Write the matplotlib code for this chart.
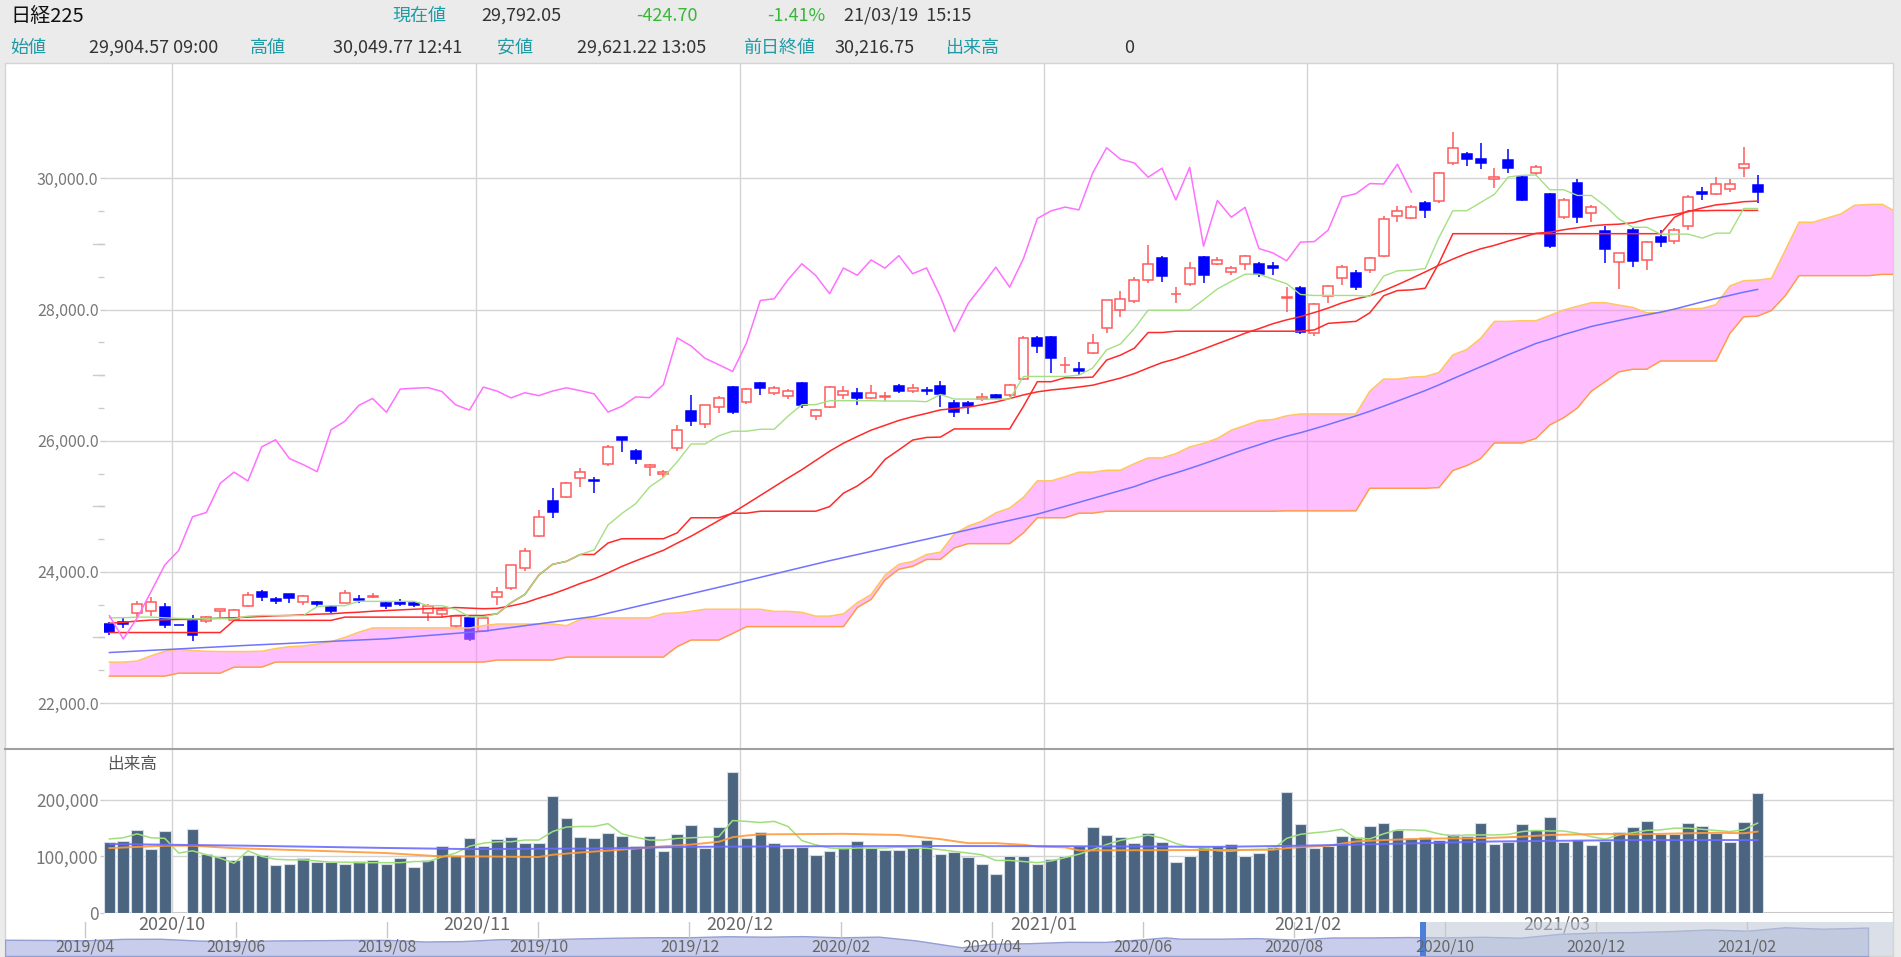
import numpy as np
import matplotlib.pyplot as plt
import matplotlib.transforms as mtransforms
from matplotlib.patches import Rectangle
from matplotlib.lines import Line2D
from matplotlib.ticker import FixedLocator, FuncFormatter

plt.rcParams['font.family'] = ['Noto Sans CJK JP', 'DejaVu Sans']

# ---------------- data ----------------
months = ['2020/09', '2020/10', '2020/11', '2020/12', '2021/01', '2021/02', '2021/03']
trade_days = [
    [24, 25, 28, 29, 30],
    [1, 2, 5, 6, 7, 8, 9, 12, 13, 14, 15, 16, 19, 20, 21, 22, 23, 26, 27, 28, 29, 30],
    [2, 4, 5, 6, 9, 10, 11, 12, 13, 16, 17, 18, 19, 20, 24, 25, 26, 27, 30],
    [1, 2, 3, 4, 7, 8, 9, 10, 11, 14, 15, 16, 17, 18, 21, 22, 23, 24, 25, 28, 29, 30],
    [4, 5, 6, 7, 8, 12, 13, 14, 15, 18, 19, 20, 21, 22, 25, 26, 27, 28, 29],
    [1, 2, 3, 4, 5, 8, 9, 10, 12, 15, 16, 17, 18, 19, 22, 24, 25, 26],
    [1, 2, 3, 4, 5, 8, 9, 10, 11, 12, 15, 16, 17, 18, 19],
]

opens = [
    23200, 23230, 23380, 23400, 23460, 23185.12, 23250, 23250, 23400, 23270,
    23480, 23700, 23580, 23660, 23540, 23540, 23460, 23530, 23590, 23615,
    23530, 23540, 23520, 23380, 23360, 23170, 23300, 23100, 23620, 23750,
    24060, 24550, 25080, 25140, 25430, 25400, 25640, 26060, 25840, 25600,
    25500, 25890, 26450, 26250, 26520, 26820, 26590, 26880, 26730, 26680,
    26880, 26380, 26520, 26690, 26730, 26650, 26660, 26830, 26760, 26780,
    26830, 26580, 26570, 26630, 26700, 26690, 26940, 27570, 27575, 27150,
    27100, 27340, 27720, 28000, 28130, 28450, 28780, 28230, 28390, 28800,
    28700, 28570, 28690, 28690, 28660, 28180, 28330, 27650, 28200, 28480,
    28560, 28600, 28820, 29420, 29390, 29620, 29650, 30230, 30370, 30300,
    29990, 30280, 30020, 30080, 29760, 29410, 29930, 29470, 29200, 28720,
    29210, 28750, 29100, 29040, 29270, 29800, 29760, 29840, 30160, 29904.57,
]
highs = [
    23230, 23290, 23560, 23620, 23520, 23185.12, 23340, 23320, 23440, 23440,
    23700, 23720, 23610, 23670, 23640, 23560, 23480, 23720, 23640, 23680,
    23550, 23580, 23560, 23510, 23450, 23340, 23330, 23310, 23770, 24110,
    24360, 24950, 25280, 25370, 25580, 25450, 25930, 26060, 25880, 25650,
    25560, 26240, 26700, 26540, 26680, 26840, 26800, 26900, 26830, 26790,
    26890, 26480, 26830, 26830, 26800, 26850, 26750, 26860, 26870, 26820,
    26910, 26620, 26600, 26720, 26710, 26860, 27600, 27600, 27600, 27280,
    27200, 27620, 28140, 28290, 28500, 28980, 28820, 28350, 28720, 28820,
    28800, 28660, 28830, 28720, 28720, 28350, 28360, 28100, 28380, 28680,
    28600, 28800, 29420, 29580, 29600, 29650, 30100, 30714, 30400, 30540,
    30160, 30450, 30050, 30200, 29780, 29700, 29990, 29590, 29270, 28870,
    29240, 29040, 29210, 29240, 29750, 29870, 30020, 29990, 30485, 30049.77,
]
lows = [
    23030, 23140, 23300, 23330, 23140, 23185.12, 22950, 23220, 23310, 23250,
    23460, 23560, 23510, 23520, 23500, 23470, 23380, 23520, 23520, 23600,
    23440, 23480, 23460, 23250, 23300, 23140, 22950, 23090, 23500, 23720,
    24020, 24530, 24820, 25120, 25290, 25200, 25620, 25830, 25650, 25460,
    25450, 25850, 26230, 26200, 26420, 26410, 26560, 26700, 26700, 26640,
    26500, 26320, 26500, 26640, 26540, 26630, 26600, 26730, 26720, 26700,
    26520, 26360, 26400, 26600, 26630, 26660, 26920, 27340, 27040, 27040,
    27000, 27320, 27650, 27880, 28100, 28400, 28420, 28100, 28360, 28400,
    28680, 28530, 28600, 28500, 28520, 27960, 27630, 27600, 28100, 28380,
    28300, 28550, 28800, 29330, 29380, 29390, 29620, 30200, 30190, 30140,
    29850, 30080, 29660, 30050, 28940, 29380, 29320, 29330, 28710, 28310,
    28650, 28600, 28950, 29000, 29210, 29670, 29740, 29800, 30020, 29621.22,
]
closes = [
    23087.82, 23204.62, 23511.62, 23539.10, 23185.12, 23185.12, 23029.90, 23312.14, 23433.73, 23422.82,
    23647.07, 23619.69, 23558.69, 23601.78, 23626.73, 23507.23, 23410.63, 23671.13, 23567.04, 23639.46,
    23474.27, 23516.59, 23494.34, 23485.80, 23418.51, 23331.94, 22977.13, 23295.48, 23695.23, 24105.28,
    24325.23, 24839.84, 24905.59, 25349.60, 25520.88, 25385.87, 25906.93, 26014.62, 25728.14, 25634.34,
    25527.37, 26165.59, 26296.86, 26537.31, 26644.71, 26433.62, 26787.54, 26800.98, 26809.37, 26751.24,
    26547.44, 26467.08, 26817.94, 26756.24, 26652.52, 26732.44, 26687.84, 26757.40, 26806.67, 26763.39,
    26714.42, 26436.39, 26524.79, 26668.35, 26656.61, 26854.03, 27568.15, 27444.17, 27258.38, 27158.63,
    27055.94, 27490.13, 28139.03, 28164.34, 28456.59, 28698.26, 28519.18, 28242.21, 28633.46, 28523.26,
    28756.86, 28631.45, 28822.29, 28546.18, 28635.21, 28197.42, 27663.39, 28091.05, 28362.17, 28646.50,
    28341.95, 28779.19, 29388.50, 29505.93, 29562.93, 29520.07, 30084.15, 30467.75, 30292.19, 30236.09,
    30017.92, 30156.03, 29671.70, 30168.27, 28966.01, 29663.50, 29408.17, 29559.10, 28930.11, 28864.32,
    28743.25, 29027.94, 29036.56, 29211.64, 29717.83, 29766.97, 29921.09, 29914.33, 30216.75, 29792.05,
]
volumes = [
    124700, 128200, 147000, 114000, 144700, 0, 148800, 104700, 100000, 92900,
    102900, 101800, 84700, 87000, 97000, 89400, 89400, 86500, 91200, 94100,
    86500, 97000, 80600, 94100, 118800, 102900, 131800, 118800, 130600, 134700,
    123500, 122900, 207000, 168200, 134700, 133000, 140600, 137000, 118800, 137000,
    108800, 139400, 155300, 114700, 152900, 250000, 132400, 142900, 122900, 114700,
    117000, 102900, 108800, 117000, 128200, 114700, 111800, 111800, 114700, 129400,
    104100, 107100, 98800, 87000, 68800, 101200, 101200, 87000, 95300, 100000,
    117600, 151800, 138800, 134100, 123500, 141200, 125300, 90600, 101200, 116500,
    117600, 121800, 101200, 105900, 116500, 214700, 157600, 114700, 117600, 137000,
    134100, 154100, 158800, 147100, 131800, 134100, 129400, 140000, 135300, 158800,
    121800, 124700, 157100, 147100, 169400, 124700, 129400, 120600, 127600, 142900,
    151200, 162900, 139400, 139400, 158800, 154700, 141200, 125300, 160600, 211800,
]

# ichimoku lines
tenkan = [
    23300, 23300, 23310, 23310, 23300, 23290, 23285, 23285, 23285, 23285,
    23325, 23335, 23335, 23335, 23335, 23470, 23485, 23485, 23550, 23550,
    23550, 23550, 23550, 23485, 23485, 23430, 23315, 23315, 23360, 23530,
    23655, 23950, 24115, 24160, 24265, 24335, 24715, 24890, 25040, 25295,
    25440, 25680, 25950, 25950, 26075, 26145, 26145, 26175, 26175, 26375,
    26550, 26550, 26610, 26610, 26610, 26610, 26605, 26605, 26605, 26595,
    26705, 26635, 26635, 26635, 26635, 26635, 26980, 26980, 26980, 26980,
    27000, 27110, 27385, 27475, 27710, 27990, 27990, 27990, 27990, 28150,
    28315, 28430, 28540, 28540, 28465, 28395, 28230, 28215, 28215, 28215,
    28215, 28200, 28510, 28590, 28600, 28625, 29100, 29507, 29507, 29632,
    29757, 30022, 30047, 30052, 29827, 29827, 29740, 29740, 29580, 29380,
    29255, 29255, 29150, 29150, 29150, 29090, 29165, 29165, 29542, 29542,
]
kijun = [
    23075, 23075, 23075, 23075, 23075, 23075, 23075, 23075, 23075, 23260,
    23260, 23260, 23260, 23260, 23260, 23260, 23260, 23310, 23310, 23310,
    23310, 23310, 23310, 23310, 23310, 23335, 23335, 23335, 23360, 23530,
    23655, 23950, 24115, 24160, 24265, 24265, 24440, 24505, 24505, 24505,
    24505, 24595, 24825, 24825, 24825, 24895, 24895, 24925, 24925, 24925,
    24925, 24925, 24995, 25200, 25310, 25460, 25715, 25860, 26010, 26050,
    26055, 26180, 26180, 26180, 26180, 26180, 26525, 26900, 26900, 26960,
    26960, 26970, 27230, 27305, 27410, 27650, 27650, 27670, 27670, 27670,
    27670, 27670, 27670, 27670, 27670, 27670, 27670, 27690, 27790, 27805,
    27820, 27950, 28210, 28290, 28300, 28325, 28710, 29157, 29157, 29157,
    29157, 29157, 29157, 29157, 29157, 29157, 29157, 29157, 29157, 29157,
    29157, 29157, 29157, 29407, 29507, 29507, 29512, 29512, 29512, 29512,
]
span_a = [
    22624, 22624, 22640, 22720, 22790, 22820, 22800, 22790, 22785, 22785,
    22785, 22790, 22830, 22860, 22870, 22900, 22936, 23000, 23080, 23145,
    23145, 23145, 23145, 23145, 23145, 23145, 23145, 23180, 23205, 23205,
    23205, 23205, 23205, 23180, 23273, 23293, 23298, 23298, 23298, 23298,
    23365, 23373, 23398, 23430, 23430, 23430, 23430, 23430, 23398, 23398,
    23383, 23325, 23325, 23360, 23530, 23655, 23950, 24115, 24160, 24265,
    24300, 24578, 24698, 24773, 24900, 24973, 25138, 25388, 25388, 25450,
    25520, 25520, 25550, 25550, 25650, 25738, 25738, 25803, 25905, 25960,
    26035, 26160, 26233, 26308, 26323, 26380, 26408, 26408, 26408, 26408,
    26408, 26753, 26940, 26940, 26970, 26980, 27040, 27308, 27390, 27560,
    27820, 27820, 27830, 27830, 27910, 27993, 28050, 28105, 28105, 28068,
    28033, 27950, 27953, 28003, 28010, 28018, 28075, 28360, 28440, 28450,
    28475, 28905, 29332, 29332, 29395, 29457, 29590, 29602, 29605, 29492,
]
span_b = [
    22410, 22410, 22410, 22410, 22410, 22455, 22455, 22455, 22455, 22547,
    22547, 22547, 22624, 22624, 22624, 22624, 22624, 22624, 22624, 22624,
    22624, 22624, 22624, 22624, 22624, 22624, 22624, 22624, 22655, 22655,
    22655, 22655, 22655, 22700, 22700, 22700, 22700, 22700, 22700, 22700,
    22700, 22860, 22960, 22960, 22960, 23060, 23165, 23165, 23165, 23165,
    23165, 23165, 23165, 23165, 23455, 23580, 23875, 24040, 24085, 24190,
    24190, 24365, 24430, 24430, 24430, 24430, 24595, 24825, 24825, 24825,
    24895, 24895, 24925, 24925, 24925, 24925, 24925, 24925, 24925, 24925,
    24925, 24925, 24925, 24925, 24925, 24930, 24930, 24930, 24930, 24930,
    24930, 25275, 25275, 25275, 25275, 25275, 25285, 25545, 25620, 25725,
    25965, 25965, 25965, 26035, 26240, 26350, 26500, 26755, 26900, 27050,
    27090, 27090, 27215, 27215, 27215, 27215, 27215, 27635, 27890, 27900,
    27985, 28210, 28517, 28517, 28517, 28517, 28517, 28517, 28537, 28537,
]
ma25 = [
    23216, 23230, 23250, 23265, 23270, 23275, 23275, 23285, 23295, 23300,
    23310, 23320, 23330, 23335, 23345, 23355, 23360, 23375, 23385, 23400,
    23410, 23420, 23430, 23440, 23446, 23456, 23447, 23438, 23444, 23481,
    23527, 23599, 23663, 23740, 23823, 23893, 23984, 24083, 24168, 24248,
    24329, 24439, 24544, 24663, 24783, 24902, 25032, 25165, 25298, 25431,
    25559, 25699, 25840, 25962, 26064, 26161, 26235, 26309, 26367, 26417,
    26470, 26491, 26511, 26549, 26590, 26643, 26699, 26745, 26774, 26794,
    26819, 26847, 26901, 26955, 27023, 27109, 27191, 27248, 27323, 27398,
    27479, 27557, 27639, 27709, 27784, 27843, 27892, 27955, 28023, 28102,
    28162, 28210, 28288, 28378, 28474, 28573, 28676, 28770, 28855, 28926,
    28979, 29044, 29101, 29163, 29180, 29217, 29248, 29277, 29293, 29302,
    29324, 29378, 29416, 29450, 29493, 29550, 29596, 29617, 29645, 29654,
]
ma75_idx = [0, 10, 20, 27, 35, 45, 52, 60, 67,
            74, 75, 76, 77, 78, 79, 80, 81, 82, 83, 84, 85, 86, 87, 88, 89,
            90, 91, 92, 93, 94, 95, 96, 97, 98, 99, 100, 101, 102, 103, 104,
            105, 106, 107, 108, 109, 110, 111, 112, 113, 114, 115, 116, 117, 118, 119]
ma75 = [22770, 22880, 22980, 23095, 23320, 23815, 24170, 24546, 24880,
        25300, 25375, 25446, 25509, 25577, 25648, 25722, 25797, 25870, 25938, 26008, 26069, 26122, 26183, 26246, 26313,
        26378, 26449, 26526, 26605, 26684, 26764, 26852, 26945, 27036, 27127, 27216, 27311, 27396, 27483, 27548,
        27619, 27680, 27742, 27789, 27834, 27879, 27920, 27961, 28007, 28062, 28118, 28168, 28216, 28265, 28307]

# volume averages
vol_ma5 = [
    131000, 133000, 140000, 133000, 132000, 106000, 110000, 103000, 97000, 88000,
    110000, 100000, 95000, 94000, 94000, 92000, 90000, 90000, 89000, 89000,
    89000, 89000, 91000, 91000, 99000, 106000, 118000, 123500, 126000, 126000,
    129000, 129000, 144000, 152000, 153000, 153000, 158000, 140000, 134000, 129000,
    129000, 132000, 133000, 134000, 135000, 163500, 162000, 160000, 162000, 153000,
    128000, 120600, 115000, 113500, 115000, 115000, 115000, 116500, 115000, 114500,
    112000, 109000, 106000, 103000, 93000, 93000, 91000, 89000, 92000, 98000,
    104000, 112000, 121000, 128500, 133000, 137800, 132600, 123000, 116400, 115000,
    110200, 109500, 111700, 112600, 112600, 132000, 139200, 141900, 144200, 148300,
    132000, 131000, 140000, 147000, 147000, 146000, 140000, 136000, 138000, 138000,
    138000, 139000, 144000, 146000, 145000, 145000, 141000, 135000, 130600, 138000,
    142000, 146000, 147000, 150000, 150000, 148000, 146000, 144000, 147000, 159000,
]
vol_ma25_idx = [0, 4, 6, 9, 15, 20, 24, 27, 31, 32, 34, 37, 40, 42, 44, 45, 46, 47, 53, 57,
                60, 62, 64, 66, 67, 69, 70, 84, 85, 86, 88, 90, 92, 94, 96, 98, 100, 102,
                104, 106, 108, 110, 112, 114, 116, 118, 119]
vol_ma25 = [114700, 119000, 119000, 114700, 110000, 106000, 100000, 100000, 99000, 103000,
            107000, 112000, 118000, 121000, 126000, 134000, 137000, 139000, 140000, 138000,
            130600, 123500, 123500, 120600, 117600, 116000, 110600, 111800, 114700, 116500,
            119000, 126500, 129000, 130600, 131800, 132000, 133000, 135000, 138000, 139000,
            140000, 139000, 140000, 141000, 142000, 141000, 144000]
vol_ma75_idx = [0, 10, 20, 26, 35, 42, 50, 60, 70, 80, 86, 92, 100, 110, 119]
vol_ma75 = [122000, 119000, 115000, 113000, 114000, 117000, 118000, 118500, 118000,
            117000, 119000, 122000, 126500, 129000, 129000]

# navigator: months counted from 2019/04, approximate closes
nav_month = [-1.06, -0.5, 0.0, 0.5, 1.0, 1.5, 2.0, 2.5, 3.0, 3.5, 4.0, 4.5, 5.0, 5.5, 6.0,
             6.5, 7.0, 7.5, 8.0, 8.5, 9.0, 9.5, 10.0, 10.5, 11.0, 11.6, 12.0, 12.5, 13.0,
             13.5, 14.0, 14.3, 14.5, 15.0, 15.5, 16.0, 16.5, 17.0, 17.5, 18.0, 18.5, 19.0,
             19.5, 20.0, 20.5, 21.0, 21.5, 22.0, 22.5, 23.0, 23.6]
nav_close = [21600, 21450, 21205, 22200, 22258, 21060, 20601, 21120, 21276, 21470, 21522,
             20420, 20704, 22000, 21756, 22450, 22927, 23300, 23294, 23950, 23657, 24040,
             23205, 23690, 21143, 16552, 18917, 19290, 20194, 20130, 21878, 23178, 22300,
             22288, 22700, 21710, 23100, 23140, 23400, 23185, 23600, 22977, 25500, 26434,
             26750, 27444, 28500, 27663, 30000, 28966, 29792]
nav_labels = ['2019/04', '2019/06', '2019/08', '2019/10', '2019/12', '2020/02',
              '2020/04', '2020/06', '2020/08', '2020/10', '2020/12', '2021/02']

# ---------------- figure ----------------
W, H = 1901, 957
fig = plt.figure(figsize=(W / 100, H / 100), dpi=100, facecolor='#ebebeb')


def box(x0, y0, x1, y1):
    return [x0 / W, 1 - y1 / H, (x1 - x0) / W, (y1 - y0) / H]


def ftext(x, y, s, **kw):
    fig.text(x / W, 1 - y / H, s, va='center', ha='left', **kw)


fig.add_artist(Rectangle((5 / W, 1 - 956 / H), 1888 / W, 893 / H, transform=fig.transFigure,
                         facecolor='white', edgecolor='#d4d4d4', lw=1, zorder=-5))

# header
TEAL = '#1f9ba6'
GREEN = '#38b838'
DARK = '#333333'
ftext(10, 16, '日経225', fontsize=14.5, color='#111111')
ftext(392, 16, '現在値', fontsize=13, color=TEAL)
ftext(481, 16, '29,792.05', fontsize=13, color=DARK)
ftext(636, 16, '-424.70', fontsize=13, color=GREEN)
ftext(767, 16, '-1.41%', fontsize=13, color=GREEN)
ftext(844, 16, '21/03/19  15:15', fontsize=13, color=DARK)
ftext(10, 48, '始値', fontsize=13, color=TEAL)
ftext(89, 48, '29,904.57 09:00', fontsize=13, color=DARK)
ftext(250, 48, '高値', fontsize=13, color=TEAL)
ftext(333, 48, '30,049.77 12:41', fontsize=13, color=DARK)
ftext(497, 48, '安値', fontsize=13, color=TEAL)
ftext(577, 48, '29,621.22 13:05', fontsize=13, color=DARK)
ftext(743, 48, '前日終値', fontsize=13, color=TEAL)
ftext(834, 48, '30,216.75', fontsize=13, color=DARK)
ftext(946, 48, '出来高', fontsize=13, color=TEAL)
ftext(1124, 48, '0', fontsize=13, color=DARK)

ax = fig.add_axes(box(104, 63, 1893, 748))
axv = fig.add_axes(box(104, 749, 1893, 913))
axn = fig.add_axes(box(5, 922, 1893, 956))
for a in (ax, axv, axn):
    a.set_facecolor('none')
    for s in a.spines.values():
        s.set_visible(False)

x = np.arange(len(closes))
o, h, l, c = map(np.array, (opens, highs, lows, closes))
XLIM = (-0.39, 128.78)
bounds = np.cumsum([len(d) for d in trade_days])[:-1] - 0.5

GRID = '#d4d4d4'
TICK = '#cccccc'
LAB = '#777777'

# ---- price panel ----
ax.set_xlim(*XLIM)
ax.set_ylim(21314, 31760)
ax.set_yticks(np.arange(22000, 30001, 2000))
ax.yaxis.set_major_formatter(FuncFormatter(lambda v, p: f'{v:,.1f}'))
ax.yaxis.set_minor_locator(FixedLocator([v for v in range(22500, 29501, 500) if v % 2000]))
ax.tick_params(axis='y', which='major', length=3, width=1, color=TICK, pad=1,
               labelsize=11.5, labelcolor=LAB)
ax.tick_params(axis='y', which='minor', length=4.3, width=1, color=TICK)
ax.tick_params(axis='x', bottom=False, labelbottom=False)
ax.yaxis.grid(True, color=GRID, lw=1)
ax.set_axisbelow(True)
for v in (23000, 25000, 27000, 29000):
    ax.plot([-0.0062, 0], [v, v], transform=ax.get_yaxis_transform(), color=TICK,
            lw=1, clip_on=False)
for b in bounds:
    ax.axvline(b, color=GRID, lw=1, zorder=0.5)
    axv.axvline(b, color=GRID, lw=1, zorder=0.5)

RED = '#ff5a5a'
BLUE = '#0000ff'
up = c > o
ax.vlines(x, l, h, colors=np.where(up, RED, BLUE), lw=1.1, zorder=2)
ax.bar(x[up], (c - o)[up], bottom=o[up], width=0.72, facecolor='white',
       edgecolor=RED, lw=1.1, zorder=3)
ax.bar(x[~up], (o - c)[~up], bottom=c[~up], width=0.72, facecolor=BLUE,
       edgecolor=BLUE, lw=1.1, zorder=3)

cx = np.arange(len(span_a))
ax.fill_between(cx, span_a, span_b, facecolor='#ff80ff', alpha=0.5, lw=0, zorder=4)
ax.plot(cx, span_a, color='#ffc85a', lw=1.1, zorder=5)
ax.plot(cx, span_b, color='#ff9a4a', lw=1.1, zorder=5)

ax.plot(ma75_idx, ma75, color='#7272ff', lw=1.1, zorder=5)
ax.plot(x, ma25, color='#ff2a2a', lw=1.1, zorder=6)
ax.plot(x, kijun, color='#ff2a2a', lw=1.1, zorder=6)
ax.plot(x, tenkan, color='#a4e082', lw=1.0, zorder=6)
ax.plot(x[:-25], c[25:], color='#ff70ff', lw=1.1, zorder=6)

# ---- volume panel ----
axv.set_xlim(*XLIM)
axv.set_ylim(0, 290000)
axv.set_yticks([0, 100000, 200000])
axv.yaxis.set_major_formatter(FuncFormatter(lambda v, p: f'{v:,.0f}'))
axv.tick_params(axis='y', length=3, width=1, color=TICK, pad=1, labelsize=12.5, labelcolor=LAB)
axv.tick_params(axis='x', bottom=False, labelbottom=False)
axv.yaxis.grid(True, color=GRID, lw=1)
axv.set_axisbelow(True)
axv.axhline(0, color='#c8c8c8', lw=1.5, zorder=1)
axv.bar(x, volumes, width=0.84, facecolor='#4b6581', edgecolor='#d6dce3', lw=0.8, zorder=2)
axv.plot(x, vol_ma5, color='#a0e07c', lw=1.1, zorder=3)
axv.plot(vol_ma25_idx, vol_ma25, color='#ff9a3c', lw=1.4, alpha=0.9, zorder=3)
axv.plot(vol_ma75_idx, vol_ma75, color='#6a6aff', lw=1.4, alpha=0.9, zorder=3)
ftext(107, 765, '出来高', fontsize=12, color='#555555')

trans = mtransforms.blended_transform_factory(axv.transData, axv.transAxes)
for b, m in zip(bounds, months[1:]):
    axv.text(b, -0.073, m, transform=trans, ha='center', va='center',
             fontsize=13, color='#666666', clip_on=False)

fig.add_artist(Line2D([5 / W, 1893 / W], [1 - 748.5 / H] * 2, color='#a0a0a0', lw=1.5))

# ---- navigator ----
axn.set_xlim(-1.06, 23.93)
axn.set_ylim(10700, 33500)
axn.set_xticks([])
axn.set_yticks([])
axn.fill_between(nav_month, nav_close, 10700, facecolor='#c7cdea', edgecolor='#939ed3', lw=1)
axn.axvspan(17.71, 23.93, facecolor='#bfc8d6', alpha=0.55, lw=0)
axn.axvspan(17.67, 17.75, facecolor='#4d7fd8', lw=0)
for k, lab in enumerate(nav_labels):
    axn.plot([2 * k, 2 * k], [23440, 33500], color='#c8c8c8', lw=1)
    axn.text(2 * k, 16700, lab, ha='center', va='center', fontsize=11.5, color='#666666')

fig.savefig('out.png', dpi=100, facecolor=fig.get_facecolor())
